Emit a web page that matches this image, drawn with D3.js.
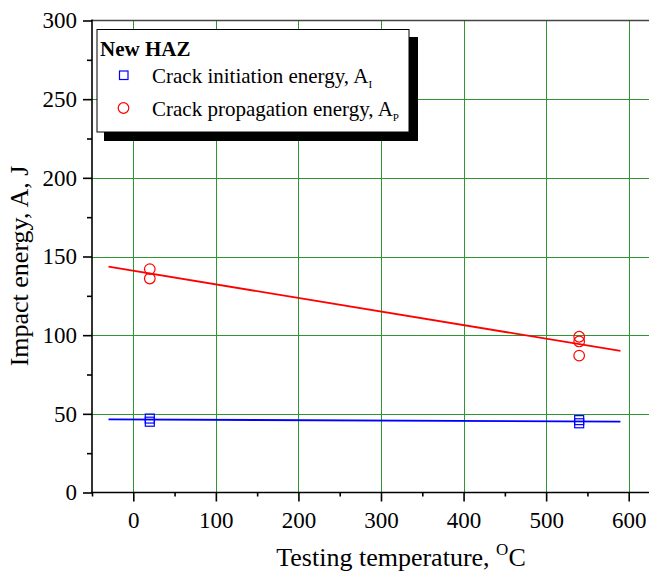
<!DOCTYPE html>
<html><head><meta charset="utf-8">
<script src="https://cdn.jsdelivr.net/npm/d3@7"></script>
<style>body{margin:0;background:#fff}svg{display:block}text{font-family:"Liberation Serif","Times New Roman",serif;fill:#000}</style>
</head><body>
<svg id="c" width="649" height="573"></svg>
<script>
const xTicks = [0, 100, 200, 300, 400, 500, 600];
const xMinor = [-50, 50, 150, 250, 350, 450, 550];
const yTicks = [0, 50, 100, 150, 200, 250, 300];
const yMinor = [25, 75, 125, 175, 225, 275];
const initX = [20, 20, 540, 540];
const initY = [47, 45, 46, 44];
const propX = [20, 20, 540, 540, 540];
const propY = [142, 136, 99, 96, 87];
const fitX = [-30, 590];
const initFit = [46.5, 45];
const propFit = [143.5, 90];

const svg = d3.select("#c");
const x = d3.scaleLinear().domain([-50, 650]).range([92, 670]);
const y = d3.scaleLinear().domain([0, 300]).range([492.5, 20.5]);
const L = 92, T = 20.5, B = 492.5, R = 649;

// grid
const g = svg.append("g");
g.selectAll(".gv").data(xTicks).join("line")
  .attr("x1", d => Math.round(x(d)) + 0.5).attr("x2", d => Math.round(x(d)) + 0.5)
  .attr("y1", T).attr("y2", B).attr("stroke", "#2e962e").attr("stroke-width", 1);
g.selectAll(".gh").data(yTicks.filter(d => d > 0 && d < 300)).join("line")
  .attr("x1", L).attr("x2", R).attr("y1", d => Math.round(y(d)) + 0.5).attr("y2", d => Math.round(y(d)) + 0.5)
  .attr("stroke", "#2e962e").attr("stroke-width", 1);
// top frame
svg.append("line").attr("x1", L).attr("x2", R).attr("y1", T).attr("y2", T).attr("stroke", "#444").attr("stroke-width", 1.5);

// axes
const xAxis = svg.append("g").attr("transform", `translate(0,${B})`)
  .call(d3.axisBottom(x).tickValues(xTicks).tickSize(9).tickPadding(10).tickFormat(d3.format("d")));
const xAxisMinor = svg.append("g").attr("transform", `translate(0,${B})`)
  .call(d3.axisBottom(x).tickValues(xMinor).tickSize(4).tickFormat(""));
const yAxis = svg.append("g").attr("transform", `translate(${L},0)`)
  .call(d3.axisLeft(y).tickValues(yTicks).tickSize(9).tickPadding(6).tickFormat(d3.format("d")));
const yAxisMinor = svg.append("g").attr("transform", `translate(${L},0)`)
  .call(d3.axisLeft(y).tickValues(yMinor).tickSize(5).tickFormat(""));
[xAxis, xAxisMinor, yAxis, yAxisMinor].forEach(a => {
  a.select(".domain").remove();
  a.attr("font-size", 23).attr("font-family", '"Liberation Serif", serif');
  a.selectAll("line").attr("stroke", "#000").attr("stroke-width", 1.6);
  a.selectAll("text").attr("fill", "#000");
});
svg.append("line").attr("x1", L - 1).attr("x2", R).attr("y1", B).attr("y2", B).attr("stroke", "#000").attr("stroke-width", 1.6);
svg.append("line").attr("x1", L).attr("x2", L).attr("y1", T - 1).attr("y2", B).attr("stroke", "#000").attr("stroke-width", 1.6);

// fit lines
const line = d3.line().x(d => x(d[0])).y(d => y(d[1]));
svg.append("path").attr("d", line(fitX.map((v, i) => [v, propFit[i]]))).attr("stroke", "#ff0000").attr("stroke-width", 1.8).attr("fill", "none");
svg.append("path").attr("d", line(fitX.map((v, i) => [v, initFit[i]]))).attr("stroke", "#0000ff").attr("stroke-width", 1.8).attr("fill", "none");

// points
svg.selectAll(".sq").data(initX.map((v, i) => [v, initY[i]])).join("rect")
  .attr("x", d => x(d[0]) - 4.5).attr("y", d => y(d[1]) - 4.5).attr("width", 9).attr("height", 9)
  .attr("fill", "none").attr("stroke", "#0000ff").attr("stroke-width", 1.2);
svg.selectAll(".ci").data(propX.map((v, i) => [v, propY[i]])).join("circle")
  .attr("cx", d => x(d[0])).attr("cy", d => y(d[1])).attr("r", 5.3)
  .attr("fill", "none").attr("stroke", "#ff0000").attr("stroke-width", 1.2);

// axis titles
svg.append("text").attr("transform", "translate(28,266) rotate(-90)").attr("text-anchor", "middle")
  .attr("font-size", 26).text("Impact energy, A, J");
const xt = svg.append("text").attr("x", 401).attr("y", 566).attr("text-anchor", "middle").attr("font-size", 26);
xt.append("tspan").text("Testing temperature, ");
xt.append("tspan").attr("font-size", 17).attr("dy", -11).text("O");
xt.append("tspan").attr("dy", 11).text("C");

// legend
const lg = svg.append("g");
lg.append("rect").attr("x", 104).attr("y", 37).attr("width", 314).attr("height", 104).attr("fill", "#000");
lg.append("rect").attr("x", 97).attr("y", 29.5).attr("width", 312).attr("height", 102.5).attr("fill", "#fff").attr("stroke", "#000").attr("stroke-width", 1);
lg.append("text").attr("x", 100).attr("y", 55.5).attr("font-size", 21).attr("font-weight", "bold").text("New HAZ");
lg.append("rect").attr("x", 119.5).attr("y", 71).attr("width", 8.5).attr("height", 8.5).attr("fill", "none").attr("stroke", "#0000ff").attr("stroke-width", 1.2);
lg.append("circle").attr("cx", 123.5).attr("cy", 108).attr("r", 5.3).attr("fill", "none").attr("stroke", "#ff0000").attr("stroke-width", 1.2);
const t1 = lg.append("text").attr("x", 152).attr("y", 82.5).attr("font-size", 21);
t1.append("tspan").text("Crack initiation energy, A");
t1.append("tspan").attr("font-size", 11).attr("dy", 5.5).text("I");
const t2 = lg.append("text").attr("x", 152).attr("y", 115.5).attr("font-size", 21);
t2.append("tspan").text("Crack propagation energy, A");
t2.append("tspan").attr("font-size", 11).attr("dy", 5.5).text("P");
</script>
</body></html>
